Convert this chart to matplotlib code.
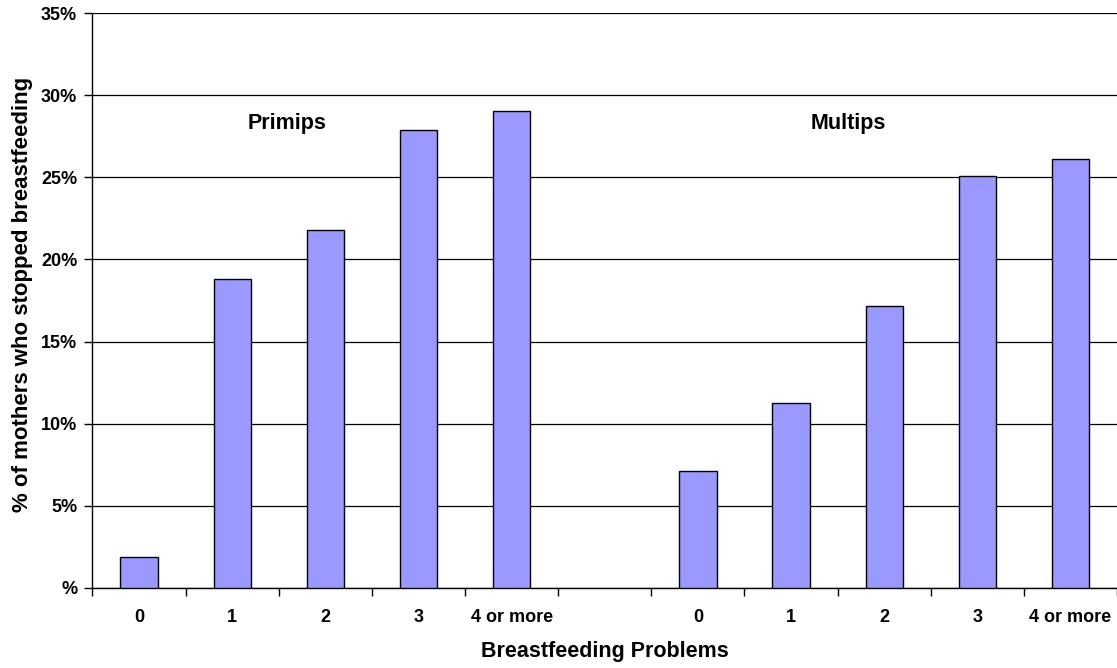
import matplotlib.pyplot as plt
from matplotlib.ticker import FixedLocator, FuncFormatter

# Данные
categories = ['0', '1', '2', '3', '4 or more', '', '0', '1', '2', '3', '4 or more']
primips = [1.9, 18.8, 21.8, 27.9, 29.05]
multips = [7.1, 11.25, 17.15, 25.1, 26.1]
group_names = ['Primips', 'Multips']

plt.rcParams['font.family'] = ['Liberation Sans', 'DejaVu Sans']
plt.rcParams['font.weight'] = 'bold'

fig = plt.figure(figsize=(11.17, 6.68), dpi=100)
ax = fig.add_axes([0.0828, 0.1198, 0.9172, 0.8607])

# Позиции столбцов: первая группа 0..4, пустой слот 5, вторая группа 6..10
x_prim = list(range(len(primips)))
x_mult = [len(primips) + 1 + i for i in range(len(multips))]
ax.bar(x_prim, primips, width=0.4, color='#9999FF', edgecolor='black', linewidth=1, zorder=3)
ax.bar(x_mult, multips, width=0.4, color='#9999FF', edgecolor='black', linewidth=1, zorder=3)

ax.set_xlim(-0.5, len(categories) - 0.5)
ax.set_ylim(0, 35)

# Сетка по оси Y
ax.set_yticks(range(0, 36, 5))
ax.yaxis.set_major_formatter(FuncFormatter(lambda v, p: '%' if v == 0 else f'{int(v)}%'))
ax.grid(axis='y', color='black', linewidth=0.9, zorder=0)

ax.set_xticks(range(len(categories)))
ax.set_xticklabels(categories)
ax.xaxis.set_minor_locator(FixedLocator([i - 0.5 for i in range(len(categories) + 1)]))
ax.tick_params(axis='x', which='major', length=0, pad=15, labelsize=13)
ax.tick_params(axis='x', which='minor', length=6, width=1, direction='out')
ax.tick_params(axis='y', length=6, width=1, pad=5, labelsize=13)

# Оси
ax.spines['top'].set_visible(False)
ax.spines['right'].set_visible(False)
ax.spines['left'].set_linewidth(1)
ax.spines['bottom'].set_linewidth(1)

ax.text(1.59, 28.3, group_names[0], ha='center', va='center', fontsize=15.5, fontweight='bold')
ax.text(7.62, 28.3, group_names[1], ha='center', va='center', fontsize=15.5, fontweight='bold')

ax.set_xlabel('Breastfeeding Problems', fontsize=15.5, fontweight='bold', labelpad=11)
ax.set_ylabel('% of mothers who stopped breastfeeding', fontsize=16, fontweight='bold')
ax.yaxis.set_label_coords(-0.058, 0.51)

plt.savefig('out.png')
plt.close()
